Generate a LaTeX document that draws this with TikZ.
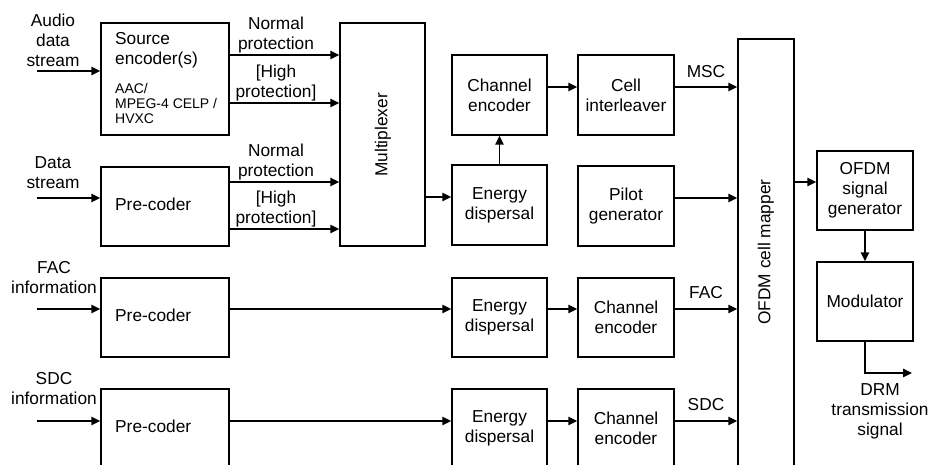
\documentclass[tikz,border=0pt]{standalone}
\usepackage{fontspec}
\setmainfont{Liberation Sans}
\usetikzlibrary{arrows.meta}
\tikzset{
  box/.style={draw, line width=1.5pt, inner sep=0pt, align=center, font=\fontsize{17.3}{20}\selectfont},
  lbl/.style={inner sep=0pt, align=center, font=\fontsize{17.3}{20}\selectfont},
  lbll/.style={inner sep=0pt, align=left, anchor=west, font=\fontsize{17.3}{20}\selectfont},
  small/.style={inner sep=0pt, align=left, anchor=west, font=\fontsize{14}{15}\selectfont},
  arr/.style={line width=1.5pt, -{Triangle[length=9pt,width=8.5pt]}},
}
\begin{document}
\begin{tikzpicture}[x=1pt,y=-1pt]
\useasboundingbox (0,0) rectangle (929,465);
\clip (0,0) rectangle (929,465);
% boxes
\node[box, minimum width=128, minimum height=112] (src) at (165,79) {};
\node[box, minimum width=128, minimum height=79] (pre1) at (165,206.5) {};
\node[box, minimum width=128, minimum height=79] (pre2) at (165,317.5) {};
\node[box, minimum width=128, minimum height=79] (pre3) at (165,428.5) {};
\node[box, minimum width=85, minimum height=223] (mux) at (382.5,134.5) {};
\node[box, minimum width=95, minimum height=80] (ce1) at (499.5,95) {Channel\\encoder};
\node[box, minimum width=95, minimum height=80] (ed1) at (499.5,205) {Energy\\dispersal};
\node[box, minimum width=96, minimum height=80] (ci) at (626,95) {Cell\\interleaver};
\node[box, minimum width=96, minimum height=80] (pg) at (626,206) {Pilot\\generator};
\node[box, minimum width=95, minimum height=79] (ed2) at (499.5,317.5) {Energy\\dispersal};
\node[box, minimum width=96, minimum height=79] (ce2) at (626,317.5) {Channel\\encoder};
\node[box, minimum width=95, minimum height=79] (ed3) at (499.5,428.5) {Energy\\dispersal};
\node[box, minimum width=96, minimum height=79] (ce3) at (626,428.5) {Channel\\encoder};
\node[box, minimum width=56, minimum height=430] (map) at (766,254) {};
\node[box, minimum width=96, minimum height=79] (osg) at (865,190.5) {OFDM\\signal\\generator};
\node[box, minimum width=96, minimum height=79] (mod) at (865,301.5) {Modulator};
% box texts
\node[lbll] (srct) at (115,50) {Source\\encoder(s)};
\node[small] (srcs) at (115,103) {AAC/\\MPEG-4 CELP /\\HVXC};
\node[lbll] (p1t) at (115,204) {Pre-coder};
\node[lbll] (p2t) at (115,315) {Pre-coder};
\node[lbll] (p3t) at (115,426) {Pre-coder};
\node[lbl, rotate=90] (muxt) at (383,135) {Multiplexer};
\node[lbl, rotate=90] (mapt) at (766,252) {OFDM cell mapper};
% input labels
\node[lbl] (ain) at (53,40) {Audio\\data\\stream};
\node[lbl] (din) at (53,173) {Data\\stream};
\node[lbl] (fin) at (54,278) {FAC\\information};
\node[lbl] (sin) at (54,389) {SDC\\information};
\node[lbl] (np1) at (276,35) {Normal\\protection};
\node[lbl] (hp1) at (276,83) {[High\\protection]};
\node[lbl] (np2) at (276,162) {Normal\\protection};
\node[lbl] (hp2) at (276,209) {[High\\protection]};
\node[lbl] (msc) at (706,72) {MSC};
\node[lbl] (fac) at (706,293) {FAC};
\node[lbl] (sdc) at (706,405) {SDC};
\node[lbl] (drmt) at (880,411) {DRM\\transmission\\signal};
% input coordinates
\coordinate (a0) at (37,71);
\coordinate (d0) at (37,198);
\coordinate (f0) at (37,309);
\coordinate (s0) at (37,421);
\coordinate (drm) at (912,373);
% connectors
\draw[arr] (a0) -- (a0 -| src.west);
\draw[arr] (d0) -- (d0 -| pre1.west);
\draw[arr] (f0) -- (f0 -| pre2.west);
\draw[arr] (s0) -- (s0 -| pre3.west);
\draw[arr] (src.east |- 0,55) -- (mux.west |- 0,55);
\draw[arr] (src.east |- 0,103) -- (mux.west |- 0,103);
\draw[arr] (pre1.east |- 0,182) -- (mux.west |- 0,182);
\draw[arr] (pre1.east |- 0,229) -- (mux.west |- 0,229);
\draw[arr] (mux.east |- 0,197) -- (ed1.west |- 0,197);
\draw[arr] (ed1.north) -- (ce1.south);
\draw[arr] (ce1.east |- 0,87) -- (ci.west |- 0,87);
\draw[arr] (ci.east |- 0,87) -- (map.west |- 0,87);
\draw[arr] (pg.east |- 0,198) -- (map.west |- 0,198);
\draw[arr] (pre2.east |- 0,309) -- (ed2.west |- 0,309);
\draw[arr] (ed2.east |- 0,309) -- (ce2.west |- 0,309);
\draw[arr] (ce2.east |- 0,309) -- (map.west |- 0,309);
\draw[arr] (pre3.east |- 0,421) -- (ed3.west |- 0,421);
\draw[arr] (ed3.east |- 0,421) -- (ce3.west |- 0,421);
\draw[arr] (ce3.east |- 0,421) -- (map.west |- 0,421);
\draw[arr] (map.east |- 0,182) -- (osg.west |- 0,182);
\draw[arr] (osg.south) -- (mod.north);
\draw[arr] (mod.south) |- (drm);
\end{tikzpicture}
\end{document}
